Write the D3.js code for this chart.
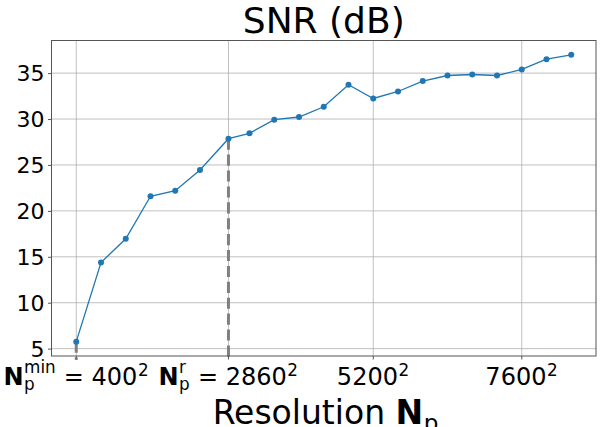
<!DOCTYPE html>
<html>
<head>
<meta charset="utf-8">
<script src="https://cdn.jsdelivr.net/npm/d3@7"></script>
<style>
  html, body { margin: 0; padding: 0; background: #fff; }
  svg { display: block; }
  text { font-family: "DejaVu Sans", sans-serif; fill: #000; }
</style>
</head>
<body>
<svg id="chart" width="602" height="427"></svg>
<script>
// ---- data ----
const resolution = [400, 800, 1200, 1600, 2000, 2400, 2860, 3200, 3600, 4000, 4400,
                    4800, 5200, 5600, 6000, 6400, 6800, 7200, 7600, 8000, 8400];
const snr = [5.76, 14.38, 16.96, 21.59, 22.2, 24.45, 27.86, 28.45, 29.93, 30.22, 31.34,
             33.73, 32.24, 33.0, 34.13, 34.74, 34.85, 34.74, 35.4, 36.52, 36.99];
const xTickValues = [400, 2860, 5200, 7600];
const xTickLabels = ["\\mathbf{N}_{p}^{min} = 400^{2}", "\\mathbf{N}_{p}^{r} = 2860^{2}", "5200^{2}", "7600^{2}"];
const yTickValues = [5, 10, 15, 20, 25, 30, 35];
const markedResolutions = [400, 2860];
const titleText = "SNR (dB)";
const xLabelText = "Resolution \\mathbf{N}_{p}";

// ---- layout ----
const W = 602, H = 427;
const margin = {left: 51.5, right: 6, top: 40.5, bottom: 71};
const svg = d3.select("#chart");

const x = d3.scaleLinear().domain([0, 8800]).range([margin.left, W - margin.right]);
const yMin = d3.min(snr), yMax = d3.max(snr), pad = (yMax - yMin) * 0.05;
const y = d3.scaleLinear().domain([yMin - pad, yMax + pad]).range([H - margin.bottom, margin.top]);

// tiny mathtext renderer
function parseMath(s) {
  const toks = [];
  let i = 0;
  function group() {
    if (s[i] === "{") { const j = s.indexOf("}", i); const t = s.slice(i + 1, j); i = j + 1; return t; }
    return s[i++];
  }
  while (i < s.length) {
    if (s.startsWith("\\mathbf{", i)) {
      i += 7; toks.push({text: group(), bold: true, level: "base"});
    } else if (s[i] === "_") { i++; toks.push({text: group(), level: "sub"}); }
    else if (s[i] === "^") { i++; toks.push({text: group(), level: "sup"}); }
    else {
      let j = i; while (j < s.length && !"_^\\".includes(s[j])) j++;
      toks.push({text: s.slice(i, j), level: "base"}); i = j;
    }
  }
  return toks;
}
function drawMath(parent, str, size, cx, baseline) {
  const g = parent.append("g");
  const toks = parseMath(str);
  let cur = 0;
  const ss = size * 0.7;
  for (let k = 0; k < toks.length; k++) {
    const t = toks[k];
    const mk = (txt, fs, bold, dy, xx) => {
      const el = g.append("text").attr("x", xx).attr("y", dy)
        .attr("font-size", fs).attr("font-weight", bold ? "bold" : "normal")
        .style("white-space", "pre").text(txt);
      return el.node().getComputedTextLength();
    };
    if (t.level === "base") {
      cur += mk(t.text, size, t.bold, 0, cur);
    } else if (t.level === "sub" && toks[k + 1] && toks[k + 1].level === "sup") {
      const w1 = mk(t.text, ss, false, size * 0.2, cur + 0.5);
      const w2 = mk(toks[k + 1].text, ss, false, -size * 0.5, cur + 0.5);
      cur += Math.max(w1, w2) + 1; k++;
    } else if (t.level === "sub") {
      cur += mk(t.text, ss, false, size * 0.2, cur + 0.5) + 1;
    } else {
      cur += mk(t.text, ss, false, -size * 0.38, cur + 0.5) + 1;
    }
  }
  g.attr("transform", `translate(${cx - cur / 2},${baseline})`);
  return g;
}

// grid
const grid = svg.append("g");
grid.selectAll("line.gy").data(yTickValues).join("line")
  .attr("x1", margin.left).attr("x2", W - margin.right)
  .attr("y1", d => y(d)).attr("y2", d => y(d))
  .attr("stroke", "#b0b0b0").attr("stroke-width", 0.8);
grid.selectAll("line.gx").data(xTickValues).join("line")
  .attr("y1", margin.top).attr("y2", H - margin.bottom)
  .attr("x1", d => x(d)).attr("x2", d => x(d))
  .attr("stroke", "#b0b0b0").attr("stroke-width", 0.8);

// marked dashed lines (drawn from the point down below the axis)
const marks = markedResolutions.map(r => ({r, v: snr[resolution.indexOf(r)]}));
svg.append("g").selectAll("line").data(marks).join("line")
  .attr("x1", d => x(d.r)).attr("x2", d => x(d.r))
  .attr("y1", d => y(d.v)).attr("y2", y(3.8))
  .attr("stroke", "#808080").attr("stroke-width", 3)
  .attr("stroke-dasharray", "11.1,4.8");

// line + markers
svg.append("path").datum(resolution.map((r, i) => [r, snr[i]]))
  .attr("fill", "none").attr("stroke", "#1f77b4").attr("stroke-width", 1.3)
  .attr("d", d3.line().x(d => x(d[0])).y(d => y(d[1])));
svg.append("g").selectAll("circle").data(resolution.map((r, i) => [r, snr[i]])).join("circle")
  .attr("cx", d => x(d[0])).attr("cy", d => y(d[1])).attr("r", 3)
  .attr("fill", "#1f77b4");

// frame
svg.append("rect").attr("x", margin.left).attr("y", margin.top)
  .attr("width", W - margin.right - margin.left).attr("height", H - margin.bottom - margin.top)
  .attr("fill", "none").attr("stroke", "#555").attr("stroke-width", 1);

// y axis
const yAxis = svg.append("g").attr("transform", `translate(${margin.left},0)`)
  .call(d3.axisLeft(y).tickValues(yTickValues).tickSize(3.5).tickPadding(3.5).tickFormat(d3.format("d")));
yAxis.select(".domain").remove();
yAxis.selectAll(".tick line").attr("stroke", "#555");
yAxis.selectAll(".tick text").attr("font-size", 22).attr("font-family", "DejaVu Sans").attr("fill", "#000").attr("dy", "0.35em");

// x ticks
const xt = svg.append("g");
xt.selectAll("line").data(xTickValues).join("line")
  .attr("x1", d => x(d)).attr("x2", d => x(d))
  .attr("y1", H - margin.bottom).attr("y2", H - margin.bottom + 3.5).attr("stroke", "#555");
xTickValues.forEach((v, i) => drawMath(xt, xTickLabels[i], 24, x(v), 385));

// title & x label
svg.append("text").attr("x", (margin.left + W - margin.right) / 2).attr("y", 33)
  .attr("text-anchor", "middle").attr("font-size", 36).text(titleText);
drawMath(svg, xLabelText, 33, (margin.left + W - margin.right) / 2 + 2, 424);
</script>
</body>
</html>
